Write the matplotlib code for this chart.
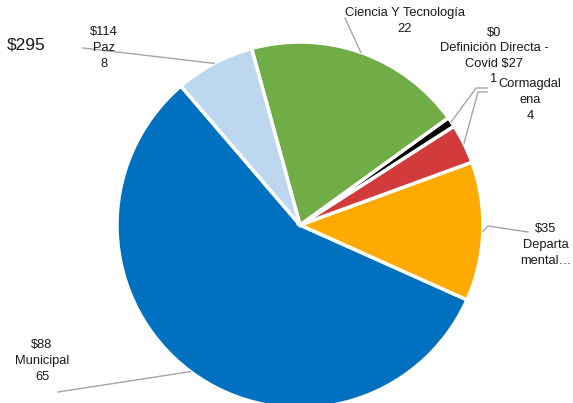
import numpy as np
import matplotlib.pyplot as plt

plt.rcParams['font.family'] = ['Liberation Sans', 'DejaVu Sans']

# datos
categorias = ['Municipal', 'Departamental', 'Cormagdalena',
              'Definición Directa - Covid', 'Ciencia Y Tecnología', 'Paz']
valores = [65, 14, 4, 1, 22, 8]
etiquetas = ['$88\nMunicipal\n65',
             '$35\nDeparta\nmental…',
             'Cormagdal\nena\n4',
             '$0\nDefinición Directa -\nCovid $27\n1',
             'Ciencia Y Tecnología\n22',
             '$114\nPaz\n8']
total_txt = '$295'
colores = ['#0070C0', '#FFAA00', '#D13B3B', '#000000', '#70AD47', '#BDD7EE']

W, H = 573, 403
fig = plt.figure(figsize=(W / 100, H / 100), dpi=100)
ax = fig.add_axes([0, 0, 1, 1])

cx, cy, R = 300, H - 225, 183
wedges, _ = ax.pie(valores, colors=colores, startangle=130.6, counterclock=True,
                   center=(cx, cy), radius=R,
                   wedgeprops=dict(edgecolor='white', linewidth=2.5))
ax.set_xlim(0, W)
ax.set_ylim(0, H)
ax.set_aspect('equal')
ax.axis('off')

# posiciones de etiquetas (pixeles, y desde arriba) y puntos de quiebre
pos = [(42, 361), (546, 245), (530, 100), (494, 56), (405, 21), (104, 48)]
fin = [(58, 392), (528, 232), (487, 92), (487, 88), (345, 18), (83, 48)]
codo = [None, (488, 226), (478, 92), (476, 88), None, None]

for w, txt, p, f, c in zip(wedges, etiquetas, pos, fin, codo):
    ang = np.deg2rad((w.theta1 + w.theta2) / 2)
    x0 = cx + R * np.cos(ang)
    y0 = cy + R * np.sin(ang)
    xs, ys = [x0], [y0]
    if c is not None:
        xs.append(c[0]); ys.append(H - c[1])
    xs.append(f[0]); ys.append(H - f[1])
    ax.plot(xs, ys, color='#A6A6A6', lw=1, zorder=1)
    ax.text(p[0], H - p[1], txt, ha='center', va='center', fontsize=9.3,
            linespacing=1.4, color='#1a1a1a', zorder=5)

ax.text(26, H - 45, total_txt, ha='center', va='center', fontsize=12.5, color='#1a1a1a')

fig.savefig('out.png', dpi=100)
